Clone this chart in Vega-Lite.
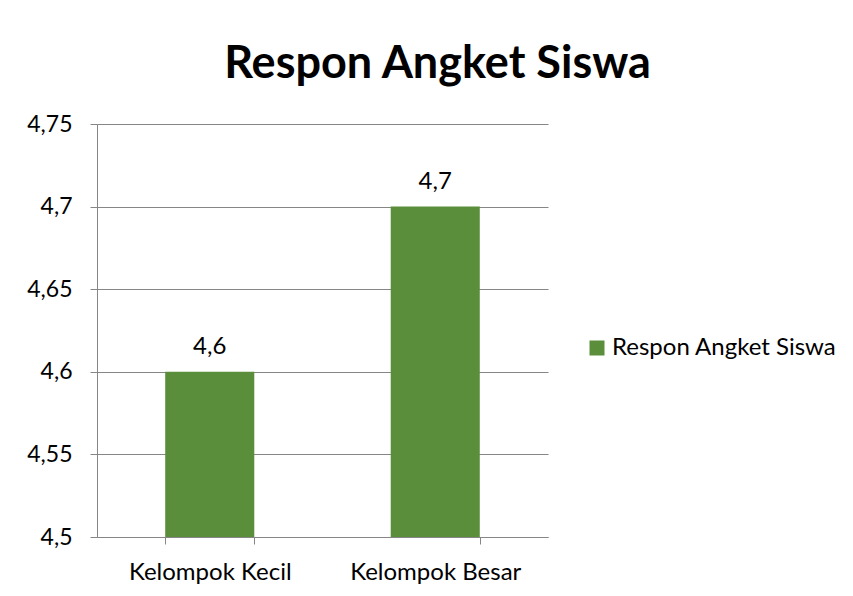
{
  "$schema": "https://vega.github.io/schema/vega-lite/v6.json",
  "width": 451,
  "height": 413,
  "autosize": {"type": "none"},
  "padding": {"left": 97, "top": 124, "right": 305, "bottom": 59},
  "background": "white",
  "title": {
    "text": "Respon Angket Siswa",
    "anchor": "middle",
    "dx": 115,
    "offset": 26,
    "fontSize": 45,
    "font": "Lato",
    "fontWeight": "bold",
    "color": "black"
  },
  "data": {
    "values": [
      {"kelompok": "Kelompok Kecil", "nilai": 4.6, "seri": "Respon Angket Siswa"},
      {"kelompok": "Kelompok Besar", "nilai": 4.7, "seri": "Respon Angket Siswa"}
    ]
  },
  "encoding": {
    "x": {
      "field": "kelompok",
      "type": "nominal",
      "sort": null,
      "scale": {"paddingInner": 0.605, "paddingOuter": 0.3025},
      "axis": {
        "title": null,
        "labelAngle": 0,
        "labelFontSize": 24,
        "tickBand": "extent",
        "tickSize": 7,
        "labelPadding": 16,
        "grid": false
      }
    },
    "y": {
      "field": "nilai",
      "type": "quantitative",
      "scale": {"domain": [4.5, 4.75], "nice": false, "zero": false},
      "axis": {
        "title": null,
        "values": [4.5, 4.55, 4.6, 4.65, 4.7, 4.75],
        "format": ".3~g",
        "labelFontSize": 23,
        "tickSize": 7,
        "labelPadding": 18,
        "grid": true
      }
    }
  },
  "layer": [
    {
      "mark": {"type": "bar"},
      "encoding": {
        "y2": {"datum": 4.5},
        "color": {
          "field": "seri",
          "type": "nominal",
          "scale": {"range": ["#5b8e3a"]},
          "legend": {
            "title": null,
            "orient": "none",
            "legendX": 488,
            "legendY": 212,
            "symbolType": "square",
            "symbolSize": 225,
            "symbolStrokeWidth": 0,
            "labelFontSize": 24,
            "labelFont": "Lato",
            "labelColor": "black",
            "labelOffset": 3,
            "labelLimit": 400,
            "padding": 0
          }
        }
      }
    },
    {
      "mark": {"type": "text", "dy": -25, "fontSize": 24, "font": "Lato", "color": "black"},
      "encoding": {
        "text": {"field": "nilai", "type": "quantitative", "format": ".2~g"}
      }
    }
  ],
  "config": {
    "locale": {
      "number": {"decimal": ",", "thousands": ".", "grouping": [3], "currency": ["", " €"]}
    },
    "view": {"stroke": null},
    "axis": {
      "labelFont": "Lato",
      "labelColor": "black",
      "domainColor": "#868686",
      "tickColor": "#868686",
      "gridColor": "#868686",
      "gridOpacity": 1,
      "domainWidth": 1,
      "tickWidth": 1,
      "gridWidth": 1
    }
  }
}
